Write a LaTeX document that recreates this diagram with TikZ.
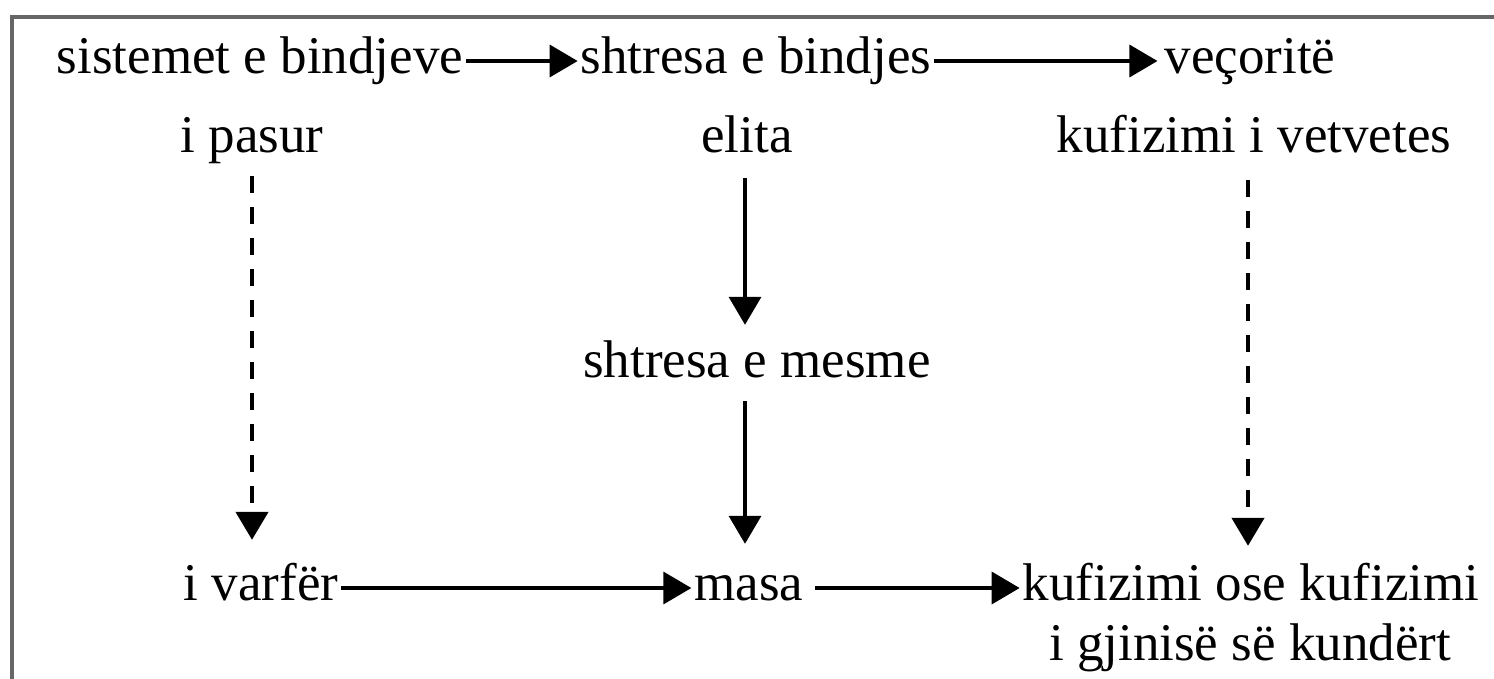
\documentclass[tikz,border=0pt]{standalone}
\usepackage{fontspec}
\setmainfont{Liberation Serif}
\usetikzlibrary{arrows.meta}
\begin{document}
\begin{tikzpicture}[x=1pt,y=-1pt,
  lbl/.style={anchor=base,inner sep=3pt,text height=37pt,text depth=13pt,font=\fontsize{53}{62}\selectfont},
  arr/.style={line width=3.5pt,-{Triangle[length=28pt,width=32pt]}},
  darr/.style={arr,line width=4.5pt,dash pattern=on 17pt off 14pt}]
\useasboundingbox (0,0) rectangle (1494,678);
\clip (0,0) rectangle (1494,678);
\fill[white] (0,0) rectangle (1494,678);
\draw[line width=4pt,draw=black!60] (12,17) rectangle (1510,700);
% row 1
\node[lbl] (sist) at (260,73) {sistemet e bindjeve};
\node[lbl] (bind) at (756,73) {shtresa e bindjes};
\node[lbl] (vec) at (1250,73) {veçoritë};
% row 2
\node[lbl] (pas) at (252,152) {i pasur};
\node[lbl] (eli) at (747,152) {elita};
\node[lbl] (vet) at (1254,152) {kufizimi i vetvetes};
% middle
\node[lbl] (mes) at (757,377) {shtresa e mesme};
% row 3
\node[lbl] (var) at (261,600) {i varfër};
\node[lbl] (mas) at (749,600) {masa};
\node[lbl] (kuf) at (1251,600) {kufizimi ose kufizimi};
\node[lbl] (gji) at (1250,660) {i gjinisë së kundërt};
% arrows
\draw[arr] (sist.east) -- (bind.west);
\draw[arr,shorten >=4pt] (bind.east) -- (vec.west);
\draw[darr,shorten <=8pt,shorten >=20pt] (pas.south) -- (pas.south |- var.north);
\draw[arr,shorten <=10pt,shorten >=12pt] (745,180 |- eli.south) -- (745,180 |- mes.north);
\draw[arr,shorten <=8pt,shorten >=16pt] (745,0 |- mes.south) -- (745,0 |- mas.north);
\draw[darr,shorten <=12pt,shorten >=14pt] (1248,0 |- vet.south) -- (1248,0 |- kuf.north);
\draw[arr] (var.east) -- (mas.west);
\draw[arr,shorten <=8pt] (mas.east) -- (kuf.west);
\end{tikzpicture}
\end{document}
